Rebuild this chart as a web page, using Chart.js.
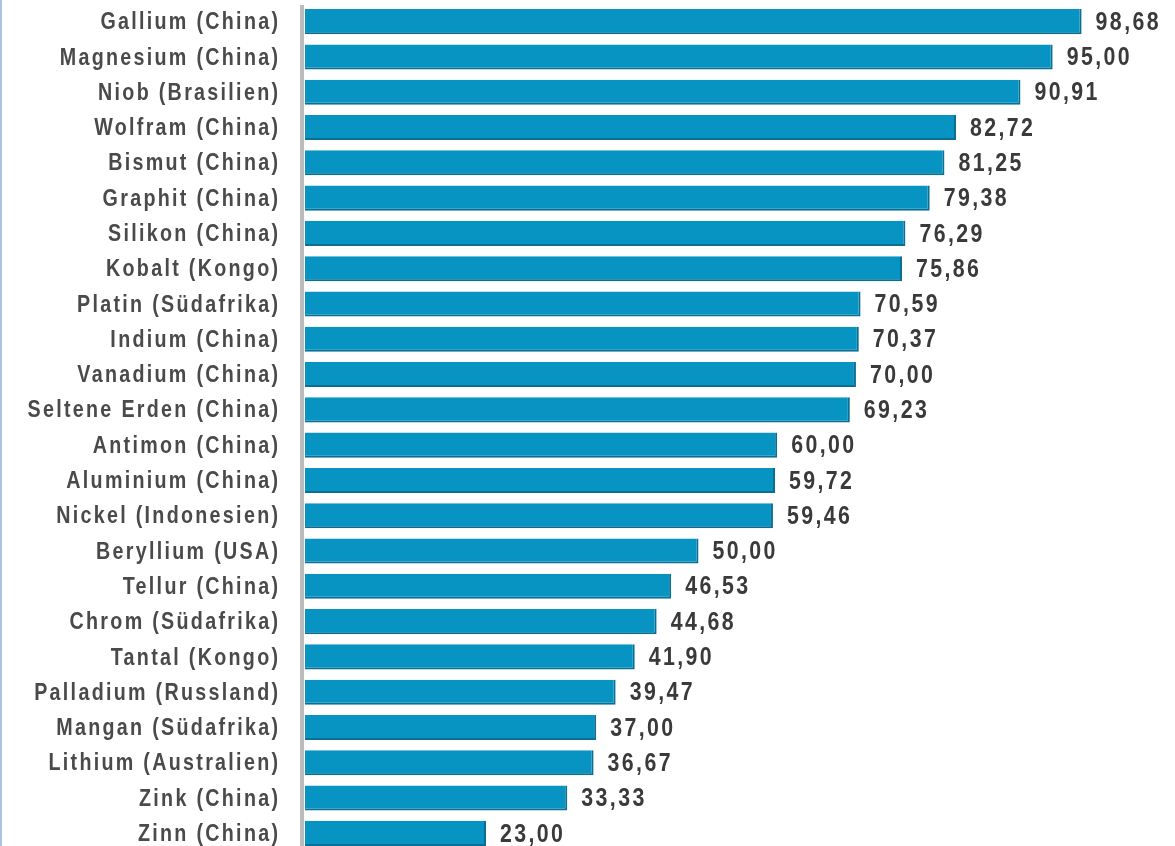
<!DOCTYPE html>
<html>
<head>
<meta charset="utf-8">
<script src="https://cdn.jsdelivr.net/npm/chart.js@4"></script>
<style>
  html, body { margin: 0; padding: 0; background: #fff; overflow: hidden; }
  body { width: 1175px; height: 846px; position: relative; }
  .edge { position: absolute; left: 0; top: 0; width: 2px; height: 846px; background: #a9c3e3; z-index: 2; }
  .wrap { position: absolute; left: 0; top: 0; width: 1175px; height: 851px; }
</style>
</head>
<body>
<div class="edge"></div>
<div class="wrap"><canvas id="c" width="1175" height="851"></canvas></div>
<script>
// Rohstoff (Hauptförderland) und Anteil in Prozent
const rohstoffe = [
  "Gallium (China)", "Magnesium (China)", "Niob (Brasilien)", "Wolfram (China)",
  "Bismut (China)", "Graphit (China)", "Silikon (China)", "Kobalt (Kongo)",
  "Platin (Südafrika)", "Indium (China)", "Vanadium (China)", "Seltene Erden (China)",
  "Antimon (China)", "Aluminium (China)", "Nickel (Indonesien)", "Beryllium (USA)",
  "Tellur (China)", "Chrom (Südafrika)", "Tantal (Kongo)", "Palladium (Russland)",
  "Mangan (Südafrika)", "Lithium (Australien)", "Zink (China)", "Zinn (China)"
];
const anteile = [
  98.68, 95.00, 90.91, 82.72, 81.25, 79.38, 76.29, 75.86,
  70.59, 70.37, 70.00, 69.23, 60.00, 59.72, 59.46, 50.00,
  46.53, 44.68, 41.90, 39.47, 37.00, 36.67, 33.33, 23.00
];

const fmt = v => v.toFixed(2).replace(".", ",");

// schmale Schrift: Liberation Sans fett, horizontal gestaucht
const SX = 0.82;
function schmal(ctx, text, x, y, size, spacing, align) {
  ctx.save();
  ctx.font = "bold " + size + "px 'Liberation Sans', Arial, sans-serif";
  ctx.letterSpacing = (spacing / SX) + "px";
  ctx.textAlign = align;
  ctx.textBaseline = "middle";
  ctx.translate(align === "right" ? x + spacing : x, y);
  ctx.scale(SX, 1);
  ctx.fillText(text, 0, 0);
  ctx.restore();
}

// grauer Balken links als Achse
const achse = {
  id: "achse",
  beforeDatasetsDraw(chart) {
    const { ctx, chartArea } = chart;
    ctx.save();
    ctx.fillStyle = "#bcbcbc";
    ctx.fillRect(chartArea.left - 5, chartArea.top + 1, 4, chartArea.bottom - chartArea.top);
    ctx.restore();
  }
};

// Kategorien links, Werte rechts neben die Balken
const beschriftung = {
  id: "beschriftung",
  afterDatasetsDraw(chart) {
    const { ctx } = chart;
    const yScale = chart.scales.y;
    const meta = chart.getDatasetMeta(0);
    ctx.save();
    ctx.fillStyle = "#4a4a4a";
    rohstoffe.forEach((name, i) => {
      schmal(ctx, name, 278, yScale.getPixelForValue(i) + 1, 24, 2.3, "right");
    });
    ctx.fillStyle = "#3a3a3a";
    meta.data.forEach((bar, i) => {
      schmal(ctx, fmt(anteile[i]), bar.x + 14, bar.y + 1, 26, 2.4, "left");
    });
    ctx.restore();
  }
};

new Chart(document.getElementById("c"), {
  type: "bar",
  data: {
    labels: rohstoffe,
    datasets: [{
      data: anteile,
      backgroundColor: "#0894c2",
      borderColor: "#0b6f93",
      borderWidth: { top: 0, right: 2, bottom: 2, left: 0 },
      borderSkipped: false,
      barPercentage: 0.71,
      categoryPercentage: 1
    }]
  },
  options: {
    indexAxis: "y",
    responsive: false,
    animation: false,
    devicePixelRatio: 1,
    layout: { padding: { top: 4, right: 83, bottom: 0, left: 0 } },
    plugins: { legend: { display: false }, tooltip: { enabled: false } },
    scales: {
      x: {
        min: 0, max: 100,
        display: false
      },
      y: {
        afterFit(scale) { scale.width = 305; },
        grid: { display: false, drawTicks: false },
        border: { display: false },
        ticks: { display: false, autoSkip: false }
      }
    }
  },
  plugins: [achse, beschriftung]
});
</script>
</body>
</html>
